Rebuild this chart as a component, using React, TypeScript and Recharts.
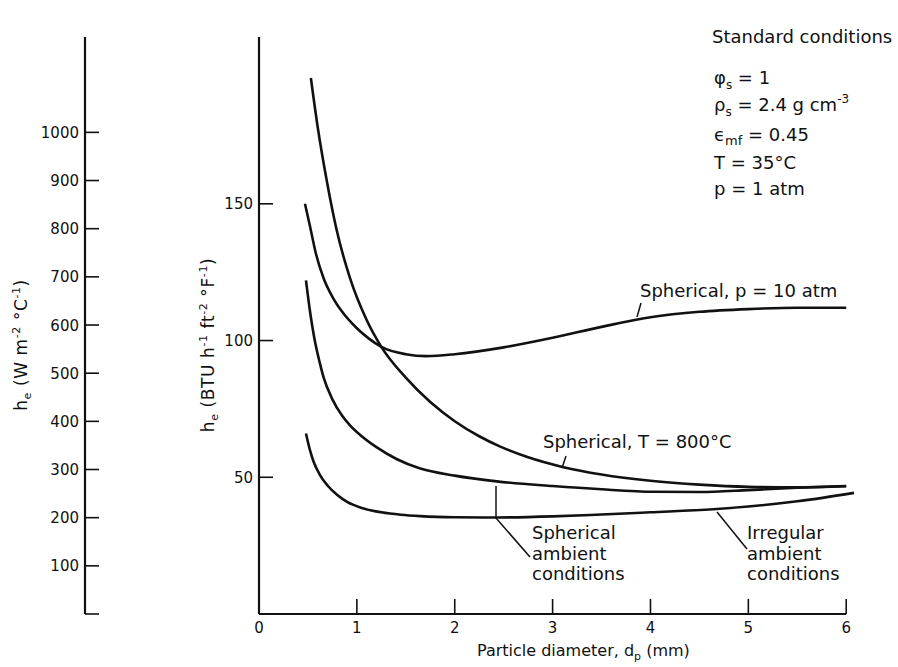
import React from 'react';
import { ComposedChart, Line, XAxis, YAxis, ReferenceLine } from 'recharts';

// particle diameter (mm) vs h_e (BTU h-1 ft-2 F-1)
const p10X = [0.47, 0.52, 0.58, 0.66, 0.75, 0.85, 1.0, 1.12, 1.25, 1.5, 1.71, 2.0, 2.5, 3.0, 3.5, 4.0, 4.5, 5.0, 5.5, 6.0];
const p10Y = [150, 142, 132, 122.8, 116, 110.5, 104.5, 100.8, 97.7, 95, 94.3, 95, 97.5, 101, 105, 108.5, 110.5, 111.5, 112, 112];

const t800X = [0.53, 0.6, 0.7, 0.79, 0.93, 1.1, 1.25, 1.5, 1.75, 2.0, 2.25, 2.46, 2.75, 3.11, 3.5, 4.0, 4.5, 5.0, 5.5, 6.0];
const t800Y = [196, 178, 157, 141, 122.8, 107.5, 97.7, 86.4, 77.5, 70.5, 65, 61.3, 57.3, 53.7, 51, 48.7, 47.3, 46.5, 46.3, 46.7];

const sphX = [0.48, 0.52, 0.57, 0.62, 0.66, 0.75, 0.85, 0.93, 1.05, 1.2, 1.41, 1.64, 2.0, 2.43, 3.0, 3.5, 4.03, 4.5, 5.0, 5.5, 6.0];
const sphY = [122, 111, 100, 92, 86.5, 78.5, 72.5, 69, 65, 61, 56.6, 53.3, 50.6, 48.5, 46.8, 45.6, 44.7, 44.6, 45.3, 46.2, 46.8];

const irrX = [0.48, 0.52, 0.56, 0.62, 0.7, 0.8, 0.9, 1.05, 1.25, 1.45, 1.65, 2.0, 2.43, 3.0, 3.5, 4.0, 4.64, 5.0, 5.5, 6.08];
const irrY = [66, 60, 55.5, 51, 47, 43.5, 41, 38.8, 37.2, 36.3, 35.8, 35.4, 35.3, 35.7, 36.4, 37.2, 38.3, 39.3, 41.2, 44.3];

const xTicks = [0, 1, 2, 3, 4, 5, 6];
const btuTicks = [50, 100, 150];
const wTicks = [0, 100, 200, 300, 400, 500, 600, 700, 800, 900, 1000];

const zip = (xs: number[], ys: number[]) => xs.map((x, i) => ({ x, y: ys[i] }));

const FONT = '"DejaVu Sans", sans-serif';
const INK = '#111';

const leftTick = (props: any) => {
  const { x, y, payload } = props;
  const ax = x + 6;
  return (
    <g>
      <line x1={ax} x2={ax + 14} y1={y} y2={y} stroke={INK} strokeWidth={1.6} />
      {payload.value !== 0 && (
        <text x={x} y={y + 5.5} textAnchor="end" fontSize={15} fontFamily={FONT} fill={INK}>
          {payload.value}
        </text>
      )}
    </g>
  );
};

const bottomTick = (props: any) => {
  const { x, y, payload } = props;
  return (
    <g>
      {payload.value !== 0 && (
        <line x1={x} x2={x} y1={y} y2={y - 15} stroke={INK} strokeWidth={1.6} />
      )}
      <text x={x} y={y + 19} textAnchor="middle" fontSize={15} fontFamily={FONT} fill={INK}>
        {payload.value}
      </text>
    </g>
  );
};

const txt = { fontFamily: FONT, fill: INK } as const;

function Notes() {
  return (
    <svg width={898} height={667} style={{ position: 'absolute', left: 0, top: 0, pointerEvents: 'none' }}>
      {/* axis titles */}
      <text {...txt} fontSize={17} letterSpacing={0.6} textAnchor="middle" transform="translate(27,345) rotate(-90)">
        h<tspan fontSize={11} dy={4}>e</tspan>
        <tspan dy={-4}>  (W  m</tspan>
        <tspan fontSize={11} dy={-7}>-2</tspan>
        <tspan dy={7}>  °C</tspan>
        <tspan fontSize={11} dy={-7}>-1</tspan>
        <tspan dy={7}>)</tspan>
      </text>
      <text {...txt} fontSize={17} letterSpacing={0.6} textAnchor="middle" transform="translate(214,345) rotate(-90)">
        h<tspan fontSize={11} dy={4}>e</tspan>
        <tspan dy={-4}>  (BTU  h</tspan>
        <tspan fontSize={11} dy={-7}>-1</tspan>
        <tspan dy={7}>  ft</tspan>
        <tspan fontSize={11} dy={-7}>-2</tspan>
        <tspan dy={7}>  °F</tspan>
        <tspan fontSize={11} dy={-7}>-1</tspan>
        <tspan dy={7}>)</tspan>
      </text>
      <text {...txt} fontSize={16} x={477} y={656}>
        Particle  diameter,  d<tspan fontSize={11} dy={4}>p</tspan>
        <tspan dy={-4}> (mm)</tspan>
      </text>

      {/* standard conditions */}
      <g {...txt} fontSize={18}>
        <text x={712} y={43}>Standard conditions</text>
        <text x={714} y={84}>
          φ<tspan fontSize={12} dy={5}>s</tspan>
          <tspan dy={-5}>   = 1</tspan>
        </text>
        <text x={714} y={111}>
          ρ<tspan fontSize={12} dy={5}>s</tspan>
          <tspan dy={-5}> = 2.4  g  cm</tspan>
          <tspan fontSize={12} dy={-8}>-3</tspan>
        </text>
        <text x={714} y={141}>
          ϵ<tspan fontSize={13} dy={4}>mf</tspan>
          <tspan dy={-4}> = 0.45</tspan>
        </text>
        <text x={714} y={169}>T = 35°C</text>
        <text x={714} y={195}>p = 1 atm</text>
      </g>

      {/* curve labels */}
      <g {...txt} fontSize={18}>
        <text x={640} y={297}>Spherical,  p = 10 atm</text>
        <text x={543} y={448}>Spherical,  T = 800°C</text>
        <text x={532} y={539}>Spherical</text>
        <text x={532} y={560}>ambient</text>
        <text x={532} y={580}>conditions</text>
        <text x={747} y={539}>Irregular</text>
        <text x={747} y={560}>ambient</text>
        <text x={747} y={580}>conditions</text>
      </g>
      <g stroke={INK} strokeWidth={1.5} fill="none">
        <line x1={641} y1={303} x2={637} y2={317} />
        <line x1={566} y1={456} x2={562} y2={468} />
        <polyline points="496,486 496,518 530,557" />
        <line x1={717} y1={512} x2={747} y2={549} />
      </g>
    </svg>
  );
}

export default function App() {
  const lineProps = {
    type: 'monotone' as const,
    dataKey: 'y',
    stroke: INK,
    strokeWidth: 2.6,
    dot: false,
    isAnimationActive: false,
    yAxisId: 'main',
  };
  return (
    <div style={{ position: 'absolute', left: 0, top: 0, width: 898, height: 667, background: '#fff' }}>
      <ComposedChart width={898} height={667} margin={{ top: 37, right: 42, bottom: 0, left: 8 }}>
        <XAxis
          type="number"
          dataKey="x"
          domain={[0, 6.1]}
          ticks={xTicks}
          axisLine={false}
          tickLine={false}
          tickSize={0}
          tickMargin={0}
          height={53}
          tick={bottomTick}
        />
        <YAxis
          yAxisId="main"
          orientation="left"
          type="number"
          width={174}
          domain={[0, 211]}
          allowDataOverflow
          ticks={btuTicks}
          axisLine={{ stroke: INK, strokeWidth: 2.2 }}
          tickLine={false}
          tickSize={0}
          tickMargin={6}
          tick={leftTick}
        />
        <YAxis
          yAxisId="w"
          orientation="left"
          type="number"
          width={77}
          domain={[0, 1198]}
          allowDataOverflow
          ticks={wTicks}
          axisLine={{ stroke: INK, strokeWidth: 2.2 }}
          tickLine={false}
          tickSize={0}
          tickMargin={6}
          tick={leftTick}
        />
        <ReferenceLine yAxisId="main" segment={[{ x: 0, y: 0 }, { x: 6, y: 0 }]} stroke={INK} strokeWidth={2.2} />
        <Line {...lineProps} data={zip(p10X, p10Y)} />
        <Line {...lineProps} data={zip(t800X, t800Y)} />
        <Line {...lineProps} data={zip(sphX, sphY)} />
        <Line {...lineProps} data={zip(irrX, irrY)} />
      </ComposedChart>
      <Notes />
    </div>
  );
}
